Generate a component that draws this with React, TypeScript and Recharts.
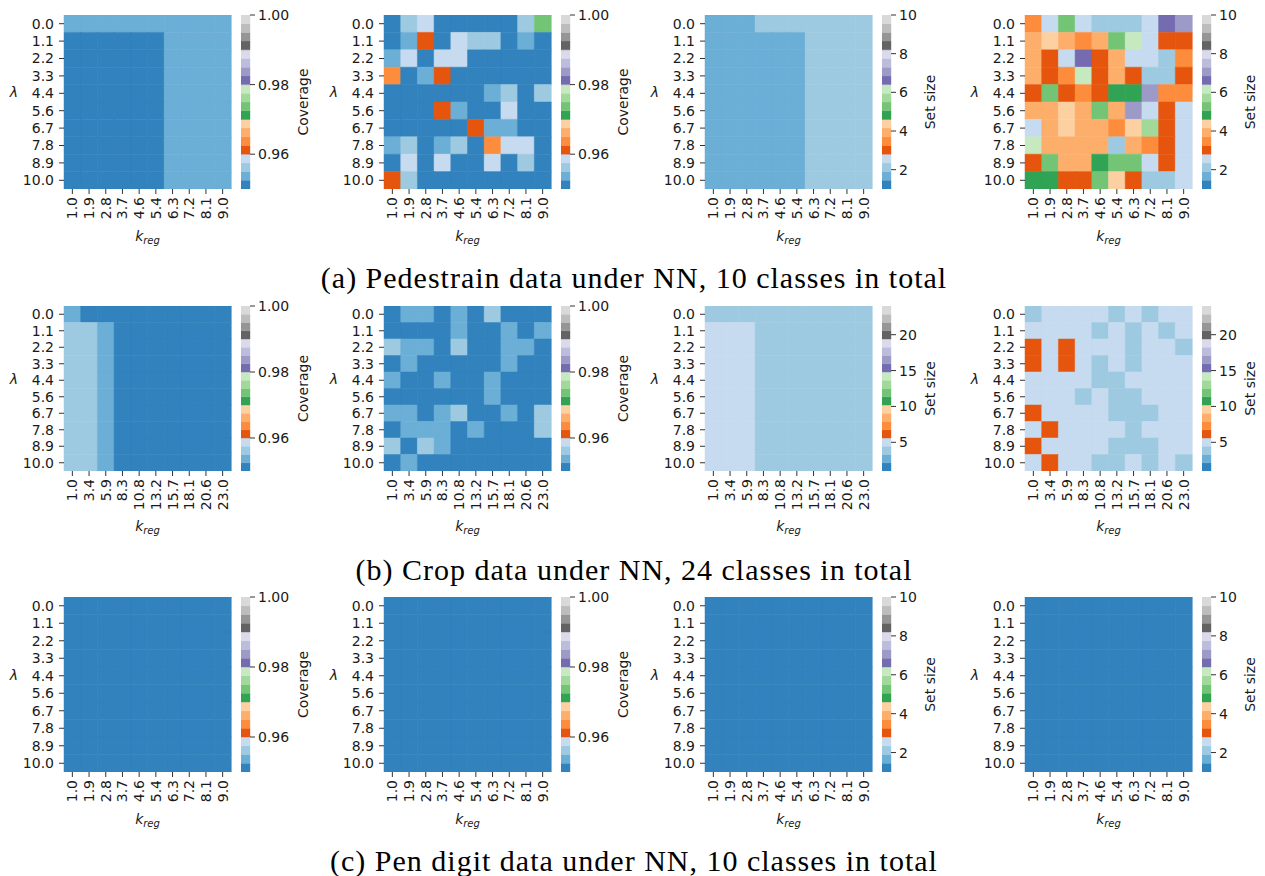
import React from 'react';
import { BarChart, Bar, XAxis, YAxis, Cell } from 'recharts';

// tab20c colormap (bottom -> top of colorbar)
const TAB20C = ['#3182bd', '#6baed6', '#9ecae1', '#c6dbef', '#e6550d', '#fd8d3c', '#fdae6b', '#fdd0a2', '#31a354', '#74c476', '#a1d99b', '#c7e9c0', '#756bb1', '#9e9ac8', '#bcbddc', '#dadaeb', '#636363', '#969696', '#bdbdbd', '#d9d9d9'];

const LAMBDA_LABELS = ['0.0', '1.1', '2.2', '3.3', '4.4', '5.6', '6.7', '7.8', '8.9', '10.0'];
const K_REG_10 = ['1.0', '1.9', '2.8', '3.7', '4.6', '5.4', '6.3', '7.2', '8.1', '9.0'];
const K_REG_24 = ['1.0', '3.4', '5.9', '8.3', '10.8', '13.2', '15.7', '18.1', '20.6', '23.0'];

const COV_TICKS = [0.96, 0.98, 1.0];
const SET10_TICKS = [2, 4, 6, 8, 10];
const SET24_TICKS = [5, 10, 15, 20];

const CAPTIONS = [
  '(a) Pedestrain data under NN, 10 classes in total',
  '(b) Crop data under NN, 24 classes in total',
  '(c) Pen digit data under NN, 10 classes in total',
];

// (a) Pedestrian
const PED_COV_FIXED = [
  [0.954, 0.954, 0.954, 0.954, 0.954, 0.954, 0.954, 0.954, 0.954, 0.954],
  [0.951, 0.951, 0.951, 0.951, 0.951, 0.951, 0.954, 0.954, 0.954, 0.954],
  [0.951, 0.951, 0.951, 0.951, 0.951, 0.951, 0.954, 0.954, 0.954, 0.954],
  [0.951, 0.951, 0.951, 0.951, 0.951, 0.951, 0.954, 0.954, 0.954, 0.954],
  [0.951, 0.951, 0.951, 0.951, 0.951, 0.951, 0.954, 0.954, 0.954, 0.954],
  [0.951, 0.951, 0.951, 0.951, 0.951, 0.951, 0.954, 0.954, 0.954, 0.954],
  [0.951, 0.951, 0.951, 0.951, 0.951, 0.951, 0.954, 0.954, 0.954, 0.954],
  [0.951, 0.951, 0.951, 0.951, 0.951, 0.951, 0.954, 0.954, 0.954, 0.954],
  [0.951, 0.951, 0.951, 0.951, 0.951, 0.951, 0.954, 0.954, 0.954, 0.954],
  [0.951, 0.951, 0.951, 0.951, 0.951, 0.951, 0.954, 0.954, 0.954, 0.954],
];
const PED_COV_RAND = [
  [0.951, 0.956, 0.959, 0.951, 0.951, 0.951, 0.951, 0.951, 0.956, 0.974],
  [0.951, 0.954, 0.961, 0.951, 0.959, 0.956, 0.956, 0.951, 0.954, 0.951],
  [0.954, 0.959, 0.951, 0.959, 0.959, 0.951, 0.951, 0.951, 0.951, 0.951],
  [0.964, 0.951, 0.954, 0.961, 0.951, 0.951, 0.951, 0.951, 0.951, 0.951],
  [0.951, 0.951, 0.951, 0.951, 0.951, 0.951, 0.954, 0.956, 0.951, 0.956],
  [0.951, 0.951, 0.951, 0.961, 0.954, 0.951, 0.951, 0.959, 0.951, 0.951],
  [0.951, 0.951, 0.951, 0.951, 0.951, 0.961, 0.954, 0.954, 0.951, 0.951],
  [0.954, 0.956, 0.951, 0.954, 0.956, 0.951, 0.964, 0.959, 0.959, 0.951],
  [0.951, 0.959, 0.951, 0.959, 0.951, 0.951, 0.959, 0.951, 0.956, 0.951],
  [0.961, 0.956, 0.951, 0.951, 0.951, 0.951, 0.951, 0.951, 0.951, 0.951],
];
const PED_SET_FIXED = [
  [1.7, 1.7, 1.7, 2.1, 2.1, 2.1, 2.1, 2.1, 2.1, 2.1],
  [1.7, 1.7, 1.7, 1.7, 1.7, 1.7, 2.1, 2.1, 2.1, 2.1],
  [1.7, 1.7, 1.7, 1.7, 1.7, 1.7, 2.1, 2.1, 2.1, 2.1],
  [1.7, 1.7, 1.7, 1.7, 1.7, 1.7, 2.1, 2.1, 2.1, 2.1],
  [1.7, 1.7, 1.7, 1.7, 1.7, 1.7, 2.1, 2.1, 2.1, 2.1],
  [1.7, 1.7, 1.7, 1.7, 1.7, 1.7, 2.1, 2.1, 2.1, 2.1],
  [1.7, 1.7, 1.7, 1.7, 1.7, 1.7, 2.1, 2.1, 2.1, 2.1],
  [1.7, 1.7, 1.7, 1.7, 1.7, 1.7, 2.1, 2.1, 2.1, 2.1],
  [1.7, 1.7, 1.7, 1.7, 1.7, 1.7, 2.1, 2.1, 2.1, 2.1],
  [1.7, 1.7, 1.7, 1.7, 1.7, 1.7, 2.1, 2.1, 2.1, 2.1],
];
const PED_SET_RAND = [
  [3.5, 2.6, 5.3, 2.6, 2.1, 2.1, 2.1, 2.6, 6.6, 7.1],
  [3.9, 4.4, 3.9, 3.5, 3.9, 5.3, 6.2, 2.6, 3.0, 3.0],
  [3.9, 3.0, 2.6, 6.6, 3.0, 3.9, 2.6, 2.6, 2.1, 3.5],
  [3.9, 3.0, 3.5, 6.2, 3.0, 3.9, 3.0, 2.1, 2.1, 3.0],
  [3.0, 5.3, 3.0, 3.5, 3.0, 4.8, 4.8, 7.1, 3.5, 3.5],
  [3.9, 3.9, 4.4, 3.9, 5.3, 3.9, 7.1, 2.6, 3.0, 2.6],
  [2.6, 3.9, 4.4, 3.9, 3.9, 3.5, 4.4, 5.7, 3.0, 2.6],
  [6.2, 3.9, 3.9, 3.9, 3.9, 2.1, 3.9, 3.5, 3.0, 2.6],
  [3.0, 5.3, 3.9, 3.9, 4.8, 5.3, 5.3, 2.6, 3.0, 2.6],
  [4.8, 4.8, 3.0, 3.0, 5.3, 4.4, 3.0, 2.1, 2.1, 2.6],
];

// (b) Crop
const CROP_COV_FIXED = [
  [0.954, 0.951, 0.951, 0.951, 0.951, 0.951, 0.951, 0.951, 0.951, 0.951],
  [0.956, 0.956, 0.954, 0.951, 0.951, 0.951, 0.951, 0.951, 0.951, 0.951],
  [0.956, 0.956, 0.954, 0.951, 0.951, 0.951, 0.951, 0.951, 0.951, 0.951],
  [0.956, 0.956, 0.954, 0.951, 0.951, 0.951, 0.951, 0.951, 0.951, 0.951],
  [0.956, 0.956, 0.954, 0.951, 0.951, 0.951, 0.951, 0.951, 0.951, 0.951],
  [0.956, 0.956, 0.954, 0.951, 0.951, 0.951, 0.951, 0.951, 0.951, 0.951],
  [0.956, 0.956, 0.954, 0.951, 0.951, 0.951, 0.951, 0.951, 0.951, 0.951],
  [0.956, 0.956, 0.954, 0.951, 0.951, 0.951, 0.951, 0.951, 0.951, 0.951],
  [0.956, 0.956, 0.954, 0.951, 0.951, 0.951, 0.951, 0.951, 0.951, 0.951],
  [0.956, 0.956, 0.954, 0.951, 0.951, 0.951, 0.951, 0.951, 0.951, 0.951],
];
const CROP_COV_RAND = [
  [0.951, 0.954, 0.954, 0.951, 0.954, 0.951, 0.956, 0.951, 0.951, 0.951],
  [0.951, 0.951, 0.951, 0.951, 0.954, 0.951, 0.951, 0.954, 0.951, 0.954],
  [0.956, 0.954, 0.954, 0.951, 0.956, 0.951, 0.951, 0.954, 0.954, 0.951],
  [0.951, 0.954, 0.951, 0.951, 0.951, 0.951, 0.951, 0.954, 0.951, 0.951],
  [0.954, 0.951, 0.951, 0.954, 0.951, 0.951, 0.954, 0.951, 0.951, 0.951],
  [0.951, 0.951, 0.951, 0.951, 0.951, 0.951, 0.954, 0.951, 0.951, 0.951],
  [0.954, 0.954, 0.951, 0.954, 0.956, 0.951, 0.951, 0.954, 0.951, 0.956],
  [0.951, 0.954, 0.954, 0.954, 0.951, 0.954, 0.951, 0.951, 0.951, 0.956],
  [0.956, 0.951, 0.956, 0.954, 0.951, 0.951, 0.951, 0.951, 0.951, 0.951],
  [0.951, 0.954, 0.951, 0.951, 0.951, 0.951, 0.951, 0.951, 0.951, 0.951],
];
const CROP_SET_FIXED = [
  [3.9, 3.9, 3.9, 3.9, 3.9, 3.9, 3.9, 3.9, 3.9, 3.9],
  [5.0, 5.0, 5.0, 3.9, 3.9, 3.9, 3.9, 3.9, 3.9, 3.9],
  [5.0, 5.0, 5.0, 3.9, 3.9, 3.9, 3.9, 3.9, 3.9, 3.9],
  [5.0, 5.0, 5.0, 3.9, 3.9, 3.9, 3.9, 3.9, 3.9, 3.9],
  [5.0, 5.0, 5.0, 3.9, 3.9, 3.9, 3.9, 3.9, 3.9, 3.9],
  [5.0, 5.0, 5.0, 3.9, 3.9, 3.9, 3.9, 3.9, 3.9, 3.9],
  [5.0, 5.0, 5.0, 3.9, 3.9, 3.9, 3.9, 3.9, 3.9, 3.9],
  [5.0, 5.0, 5.0, 3.9, 3.9, 3.9, 3.9, 3.9, 3.9, 3.9],
  [5.0, 5.0, 5.0, 3.9, 3.9, 3.9, 3.9, 3.9, 3.9, 3.9],
  [5.0, 5.0, 5.0, 3.9, 3.9, 3.9, 3.9, 3.9, 3.9, 3.9],
];
const CROP_SET_RAND = [
  [3.9, 5.0, 5.0, 5.0, 5.0, 3.9, 5.0, 3.9, 5.0, 5.0],
  [5.0, 5.0, 5.0, 5.0, 3.9, 5.0, 3.9, 5.0, 3.9, 5.0],
  [6.2, 5.0, 6.2, 5.0, 5.0, 5.0, 3.9, 5.0, 5.0, 3.9],
  [6.2, 5.0, 6.2, 5.0, 3.9, 5.0, 3.9, 5.0, 5.0, 5.0],
  [5.0, 5.0, 5.0, 5.0, 3.9, 3.9, 5.0, 5.0, 5.0, 5.0],
  [5.0, 5.0, 5.0, 3.9, 5.0, 3.9, 3.9, 5.0, 5.0, 5.0],
  [6.2, 5.0, 5.0, 5.0, 5.0, 3.9, 3.9, 3.9, 5.0, 5.0],
  [5.0, 6.2, 5.0, 5.0, 5.0, 5.0, 3.9, 5.0, 5.0, 5.0],
  [6.2, 5.0, 5.0, 5.0, 5.0, 3.9, 3.9, 3.9, 5.0, 5.0],
  [5.0, 6.2, 5.0, 5.0, 3.9, 3.9, 5.0, 3.9, 5.0, 3.9],
];

// (c) Pen digit
const PEN_COV = [
  [0.95, 0.95, 0.95, 0.95, 0.95, 0.95, 0.95, 0.95, 0.95, 0.95],
  [0.95, 0.95, 0.95, 0.95, 0.95, 0.95, 0.95, 0.95, 0.95, 0.95],
  [0.95, 0.95, 0.95, 0.95, 0.95, 0.95, 0.95, 0.95, 0.95, 0.95],
  [0.95, 0.95, 0.95, 0.95, 0.95, 0.95, 0.95, 0.95, 0.95, 0.95],
  [0.95, 0.95, 0.95, 0.95, 0.95, 0.95, 0.95, 0.95, 0.95, 0.95],
  [0.95, 0.95, 0.95, 0.95, 0.95, 0.95, 0.95, 0.95, 0.95, 0.95],
  [0.95, 0.95, 0.95, 0.95, 0.95, 0.95, 0.95, 0.95, 0.95, 0.95],
  [0.95, 0.95, 0.95, 0.95, 0.95, 0.95, 0.95, 0.95, 0.95, 0.95],
  [0.95, 0.95, 0.95, 0.95, 0.95, 0.95, 0.95, 0.95, 0.95, 0.95],
  [0.95, 0.95, 0.95, 0.95, 0.95, 0.95, 0.95, 0.95, 0.95, 0.95],
];
const PEN_SET = [
  [1, 1, 1, 1, 1, 1, 1, 1, 1, 1],
  [1, 1, 1, 1, 1, 1, 1, 1, 1, 1],
  [1, 1, 1, 1, 1, 1, 1, 1, 1, 1],
  [1, 1, 1, 1, 1, 1, 1, 1, 1, 1],
  [1, 1, 1, 1, 1, 1, 1, 1, 1, 1],
  [1, 1, 1, 1, 1, 1, 1, 1, 1, 1],
  [1, 1, 1, 1, 1, 1, 1, 1, 1, 1],
  [1, 1, 1, 1, 1, 1, 1, 1, 1, 1],
  [1, 1, 1, 1, 1, 1, 1, 1, 1, 1],
  [1, 1, 1, 1, 1, 1, 1, 1, 1, 1],
];

const SANS = "'DejaVu Sans', sans-serif";
const SERIF = "'Liberation Serif', 'DejaVu Serif', serif";
const TXT = '#1a1a1a';
const FS = 14;

function cellColor(v: number, vmin: number, vmax: number) {
  let i = Math.floor(((v - vmin) / (vmax - vmin)) * 20 + 1e-9);
  if (i < 0) i = 0;
  if (i > 19) i = 19;
  return TAB20C[i];
}

const XTick = (props: any) => {
  const { x, y, payload } = props;
  return (
    <text x={x} y={y} transform={`rotate(-90, ${x}, ${y})`} textAnchor="end" dy="0.36em" fontSize={FS} fontFamily={SANS} fill={TXT}>
      {payload.value}
    </text>
  );
};

const KLabel = (props: any) => {
  const { viewBox, offY } = props;
  if (!viewBox) return null;
  const cx = viewBox.x + viewBox.width / 2;
  const cy = viewBox.y + offY;
  return (
    <text x={cx} y={cy} textAnchor="middle" dy="0.3em" fontSize={FS} fontFamily={SANS} fontStyle="italic" fill={TXT}>
      k<tspan fontSize={10} dy={3}>reg</tspan>
    </text>
  );
};

const LambdaLabel = (props: any) => {
  const { viewBox } = props;
  if (!viewBox) return null;
  const x = viewBox.x + viewBox.width - 50;
  const y = viewBox.y + viewBox.height / 2 - 10;
  return (
    <text x={x} y={y} textAnchor="middle" dy="0.36em" fontSize={FS} fontFamily={SANS} fontStyle="italic" fill={TXT}>
      λ
    </text>
  );
};

const CbLabel = (props: any) => {
  const { viewBox, text, off } = props;
  if (!viewBox) return null;
  const x = viewBox.x + off;
  const y = viewBox.y + viewBox.height / 2;
  return (
    <text x={x} y={y} transform={`rotate(-90, ${x}, ${y})`} textAnchor="middle" dy="0.36em" fontSize={FS} fontFamily={SANS} fill={TXT}>
      {text}
    </text>
  );
};

const Y_TICK_POS = LAMBDA_LABELS.map((_, i) => i + 0.5);
const ROW_KEYS = LAMBDA_LABELS.map((_, i) => 'r' + i);

function Heatmap(p: { matrix: number[][]; xLabels: string[]; vmin: number; vmax: number; left: number; top: number; plotW: number; plotH: number; xAxisH: number; kOff: number }) {
  const YW = 60, MT = 10, MR = 5;
  const data = p.xLabels.map((k) => {
    const d: any = { k };
    ROW_KEYS.forEach((r) => (d[r] = 1));
    return d;
  });
  return (
    <div style={{ position: 'absolute', left: p.left - YW, top: p.top - MT }}>
      <BarChart width={YW + p.plotW + MR} height={MT + p.plotH + p.xAxisH} data={data} margin={{ top: MT, right: MR, bottom: 0, left: 0 }} barCategoryGap={0} barGap={0}>
        <XAxis dataKey="k" type="category" height={p.xAxisH} interval={0} axisLine={false} tickSize={5} tickMargin={3} stroke="#333" tick={<XTick />} label={<KLabel offY={p.kOff} />} />
        <YAxis type="number" domain={[0, 10]} reversed allowDataOverflow ticks={Y_TICK_POS} interval={0} width={YW} axisLine={false} tickSize={5} tickMargin={5} stroke="#333" tick={{ fontSize: FS, fill: TXT, fontFamily: SANS }} tickFormatter={(v: number) => LAMBDA_LABELS[Math.round(v - 0.5)]} label={<LambdaLabel />} />
        {ROW_KEYS.map((r, i) => (
          <Bar key={r} dataKey={r} stackId="s" isAnimationActive={false}>
            {p.xLabels.map((_, j) => {
              const c = cellColor(p.matrix[i][j], p.vmin, p.vmax);
              return <Cell key={j} fill={c} stroke={c} strokeWidth={0.5} />;
            })}
          </Bar>
        ))}
      </BarChart>
    </div>
  );
}

const BAND_KEYS = TAB20C.map((_, i) => 'b' + i);

function Colorbar(p: { vmin: number; vmax: number; ticks: number[]; digits: number; label: string; labelOff: number; left: number; top: number; plotH: number }) {
  const W = 9, YR = 80, MT = 12;
  const band = (p.vmax - p.vmin) / 20;
  const d: any = { c: 'cb', base: p.vmin };
  BAND_KEYS.forEach((k) => (d[k] = band));
  return (
    <div style={{ position: 'absolute', left: p.left, top: p.top - MT }}>
      <BarChart width={W + YR} height={p.plotH + 2 * MT} data={[d]} margin={{ top: MT, right: 0, bottom: MT, left: 0 }} barCategoryGap={0} barGap={0}>
        <XAxis dataKey="c" type="category" hide />
        <YAxis orientation="right" type="number" domain={[p.vmin, p.vmax]} allowDataOverflow ticks={p.ticks} interval={0} width={YR} axisLine={false} tickSize={5} tickMargin={3} stroke="#333" tick={{ fontSize: FS, fill: TXT, fontFamily: SANS }} tickFormatter={(v: number) => v.toFixed(p.digits)} label={<CbLabel text={p.label} off={p.labelOff} />} />
        <Bar dataKey="base" stackId="s" fill="transparent" isAnimationActive={false} />
        {BAND_KEYS.map((k, i) => (
          <Bar key={k} dataKey={k} stackId="s" fill={TAB20C[i]} stroke={TAB20C[i]} strokeWidth={0.4} isAnimationActive={false} />
        ))}
      </BarChart>
    </div>
  );
}

const COL_LEFTS = [64, 384, 705, 1025];
const CB_LEFTS = [241, 561, 882, 1202];
const PLOT_W = 167;

export default function App() {
  const rows = [
    { top: 15, plotH: 174, xAxisH: 70, kOff: 48, xLabels: K_REG_10, mats: [PED_COV_FIXED, PED_COV_RAND, PED_SET_FIXED, PED_SET_RAND], setMax: 10, setTicks: SET10_TICKS, cap: 278 },
    { top: 306, plotH: 165, xAxisH: 80, kOff: 56, xLabels: K_REG_24, mats: [CROP_COV_FIXED, CROP_COV_RAND, CROP_SET_FIXED, CROP_SET_RAND], setMax: 24, setTicks: SET24_TICKS, cap: 570 },
    { top: 597, plotH: 175, xAxisH: 70, kOff: 48, xLabels: K_REG_10, mats: [PEN_COV, PEN_COV, PEN_SET, PEN_SET], setMax: 10, setTicks: SET10_TICKS, cap: 861 },
  ];
  return (
    <div style={{ position: 'absolute', left: 0, top: 0, width: 1265, height: 876, background: '#fff' }}>
      {rows.map((row, ri) => (
        <React.Fragment key={ri}>
          {row.mats.map((m, ci) => {
            const isCov = ci < 2;
            const vmin = isCov ? 0.95 : 1;
            const vmax = isCov ? 1.0 : row.setMax;
            return (
              <React.Fragment key={ci}>
                <Heatmap matrix={m} xLabels={row.xLabels} vmin={vmin} vmax={vmax} left={COL_LEFTS[ci]} top={row.top} plotW={PLOT_W} plotH={row.plotH} xAxisH={row.xAxisH} kOff={row.kOff} />
                <Colorbar vmin={vmin} vmax={vmax} ticks={isCov ? COV_TICKS : row.setTicks} digits={isCov ? 2 : 0} label={isCov ? 'Coverage' : 'Set size'} labelOff={isCov ? 53 : 39} left={CB_LEFTS[ci]} top={row.top} plotH={row.plotH} />
              </React.Fragment>
            );
          })}
          <div style={{ position: 'absolute', left: 0, width: 1268, top: row.cap - 18, height: 36, lineHeight: '36px', textAlign: 'center', fontFamily: SERIF, fontSize: 30, letterSpacing: '1px', color: '#000', whiteSpace: 'nowrap' }}>
            {CAPTIONS[ri]}
          </div>
        </React.Fragment>
      ))}
    </div>
  );
}
